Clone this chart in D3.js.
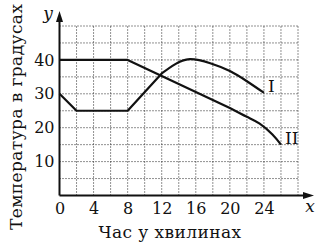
<!DOCTYPE html>
<html>
<head>
<meta charset="utf-8">
<script src="https://cdn.jsdelivr.net/npm/d3@7"></script>
<style>
  body { margin: 0; background: #fff; overflow: hidden; }
  text { font-family: 'DejaVu Serif', 'Liberation Serif', serif; fill: #111; }
</style>
</head>
<body>
<script>
// values: [minutes, degrees]
const seriesI = [[0, 30], [2, 25], [8, 25], [12, 36], [13.5, 38.6], [15.3, 40.2], [17.7, 39], [20, 36.7], [22, 33.7], [24, 30.3]]
const seriesII = [[0, 40], [8, 40], [20, 25.8], [22, 23.2], [23.5, 21.2], [25, 18], [26, 15]]
const seriesNames = ['I', 'II']
const xTicks = [0, 4, 8, 12, 16, 20, 24]
const yTicks = [10, 20, 30, 40]
const xTitle = 'Час у хвилинах'
const yTitle = 'Температура в градусах'

// index where each line stops being straight and starts to bend
const bendAt = [3, 2]

const width = 323
const height = 244

const x = d3.scaleLinear().domain([0, 28]).range([59.5, 298])
const y = d3.scaleLinear().domain([0, 50]).range([195.5, 26])

const svg = d3.select('body').append('svg')
    .attr('width', width)
    .attr('height', height)
    .style('background-color', '#fff')

// dotted grid
const grid = svg.append('g')
    .attr('stroke', '#222')
    .attr('stroke-width', 1)
    .attr('stroke-dasharray', '1,2')

grid.selectAll('.v')
    .data(x.ticks(14).filter(d => d > 0))
    .enter().append('line')
    .attr('x1', d => x(d)).attr('x2', d => x(d))
    .attr('y1', y(0)).attr('y2', y(50))

grid.selectAll('.h')
    .data(y.ticks(10).filter(d => d > 0))
    .enter().append('line')
    .attr('x1', x(0)).attr('x2', x(28))
    .attr('y1', d => y(d)).attr('y2', d => y(d))

// axes with arrows
const axisEnd = { x: 314, y: 11 }
svg.append('line')
    .attr('x1', x(0)).attr('x2', axisEnd.x - 6)
    .attr('y1', y(0)).attr('y2', y(0))
    .attr('stroke', '#111').attr('stroke-width', 2)
svg.append('line')
    .attr('x1', x(0)).attr('x2', x(0))
    .attr('y1', y(0)).attr('y2', axisEnd.y + 6)
    .attr('stroke', '#111').attr('stroke-width', 2)
svg.append('path')
    .attr('d', `M${axisEnd.x},${y(0)} l-11,-3.5 l0,7 z`)
    .attr('fill', '#111')
svg.append('path')
    .attr('d', `M${x(0)},${axisEnd.y} l-3.5,11 l7,0 z`)
    .attr('fill', '#111')

svg.append('text')
    .attr('x', 310).attr('y', 212)
    .attr('text-anchor', 'middle')
    .style('font-style', 'italic')
    .style('font-size', '17px')
    .text('x')
svg.append('text')
    .attr('x', 48).attr('y', 19)
    .attr('text-anchor', 'middle')
    .style('font-style', 'italic')
    .style('font-size', '17px')
    .text('y')

// tick labels
const xAxis = svg.append('g')
    .attr('transform', `translate(0,${y(0)})`)
    .call(d3.axisBottom(x).tickValues(xTicks).tickSize(0).tickPadding(7))
xAxis.select('.domain').remove()
xAxis.selectAll('text')
    .style('font-family', "'DejaVu Serif', serif")
    .style('font-size', '16px')
    .attr('fill', '#111')

const yAxis = svg.append('g')
    .attr('transform', `translate(${x(0)},0)`)
    .call(d3.axisLeft(y).tickValues(yTicks).tickSize(0).tickPadding(5))
yAxis.select('.domain').remove()
yAxis.selectAll('text')
    .style('font-family', "'DejaVu Serif', serif")
    .style('font-size', '16px')
    .attr('fill', '#111')

// titles
svg.append('text')
    .attr('x', 170).attr('y', 238)
    .attr('text-anchor', 'middle')
    .style('font-size', '17px')
    .style('letter-spacing', '0.4px')
    .text(xTitle)
svg.append('text')
    .attr('transform', 'translate(22,117) rotate(-90)')
    .attr('text-anchor', 'middle')
    .attr('textLength', 226)
    .attr('lengthAdjust', 'spacing')
    .style('font-size', '17px')
    .text(yTitle)

// the two temperature lines
const straight = d3.line().x(d => x(d[0])).y(d => y(d[1]))
const smooth = d3.line().x(d => x(d[0])).y(d => y(d[1])).curve(d3.curveNatural)

;[seriesI, seriesII].forEach((s, i) => {
    const k = bendAt[i]
    const d = straight(s.slice(0, k + 1)) + smooth(s.slice(k)).replace(/^M[^CL]*/, '')
    svg.append('path')
        .attr('d', d)
        .attr('fill', 'none')
        .attr('stroke', '#111')
        .attr('stroke-width', 2.2)
        .attr('stroke-linejoin', 'round')

    const last = s[s.length - 1]
    svg.append('text')
        .attr('x', x(last[0]) + 4)
        .attr('y', y(last[1]) - 1)
        .style('font-size', '17px')
        .text(seriesNames[i])
})
</script>
</body>
</html>
